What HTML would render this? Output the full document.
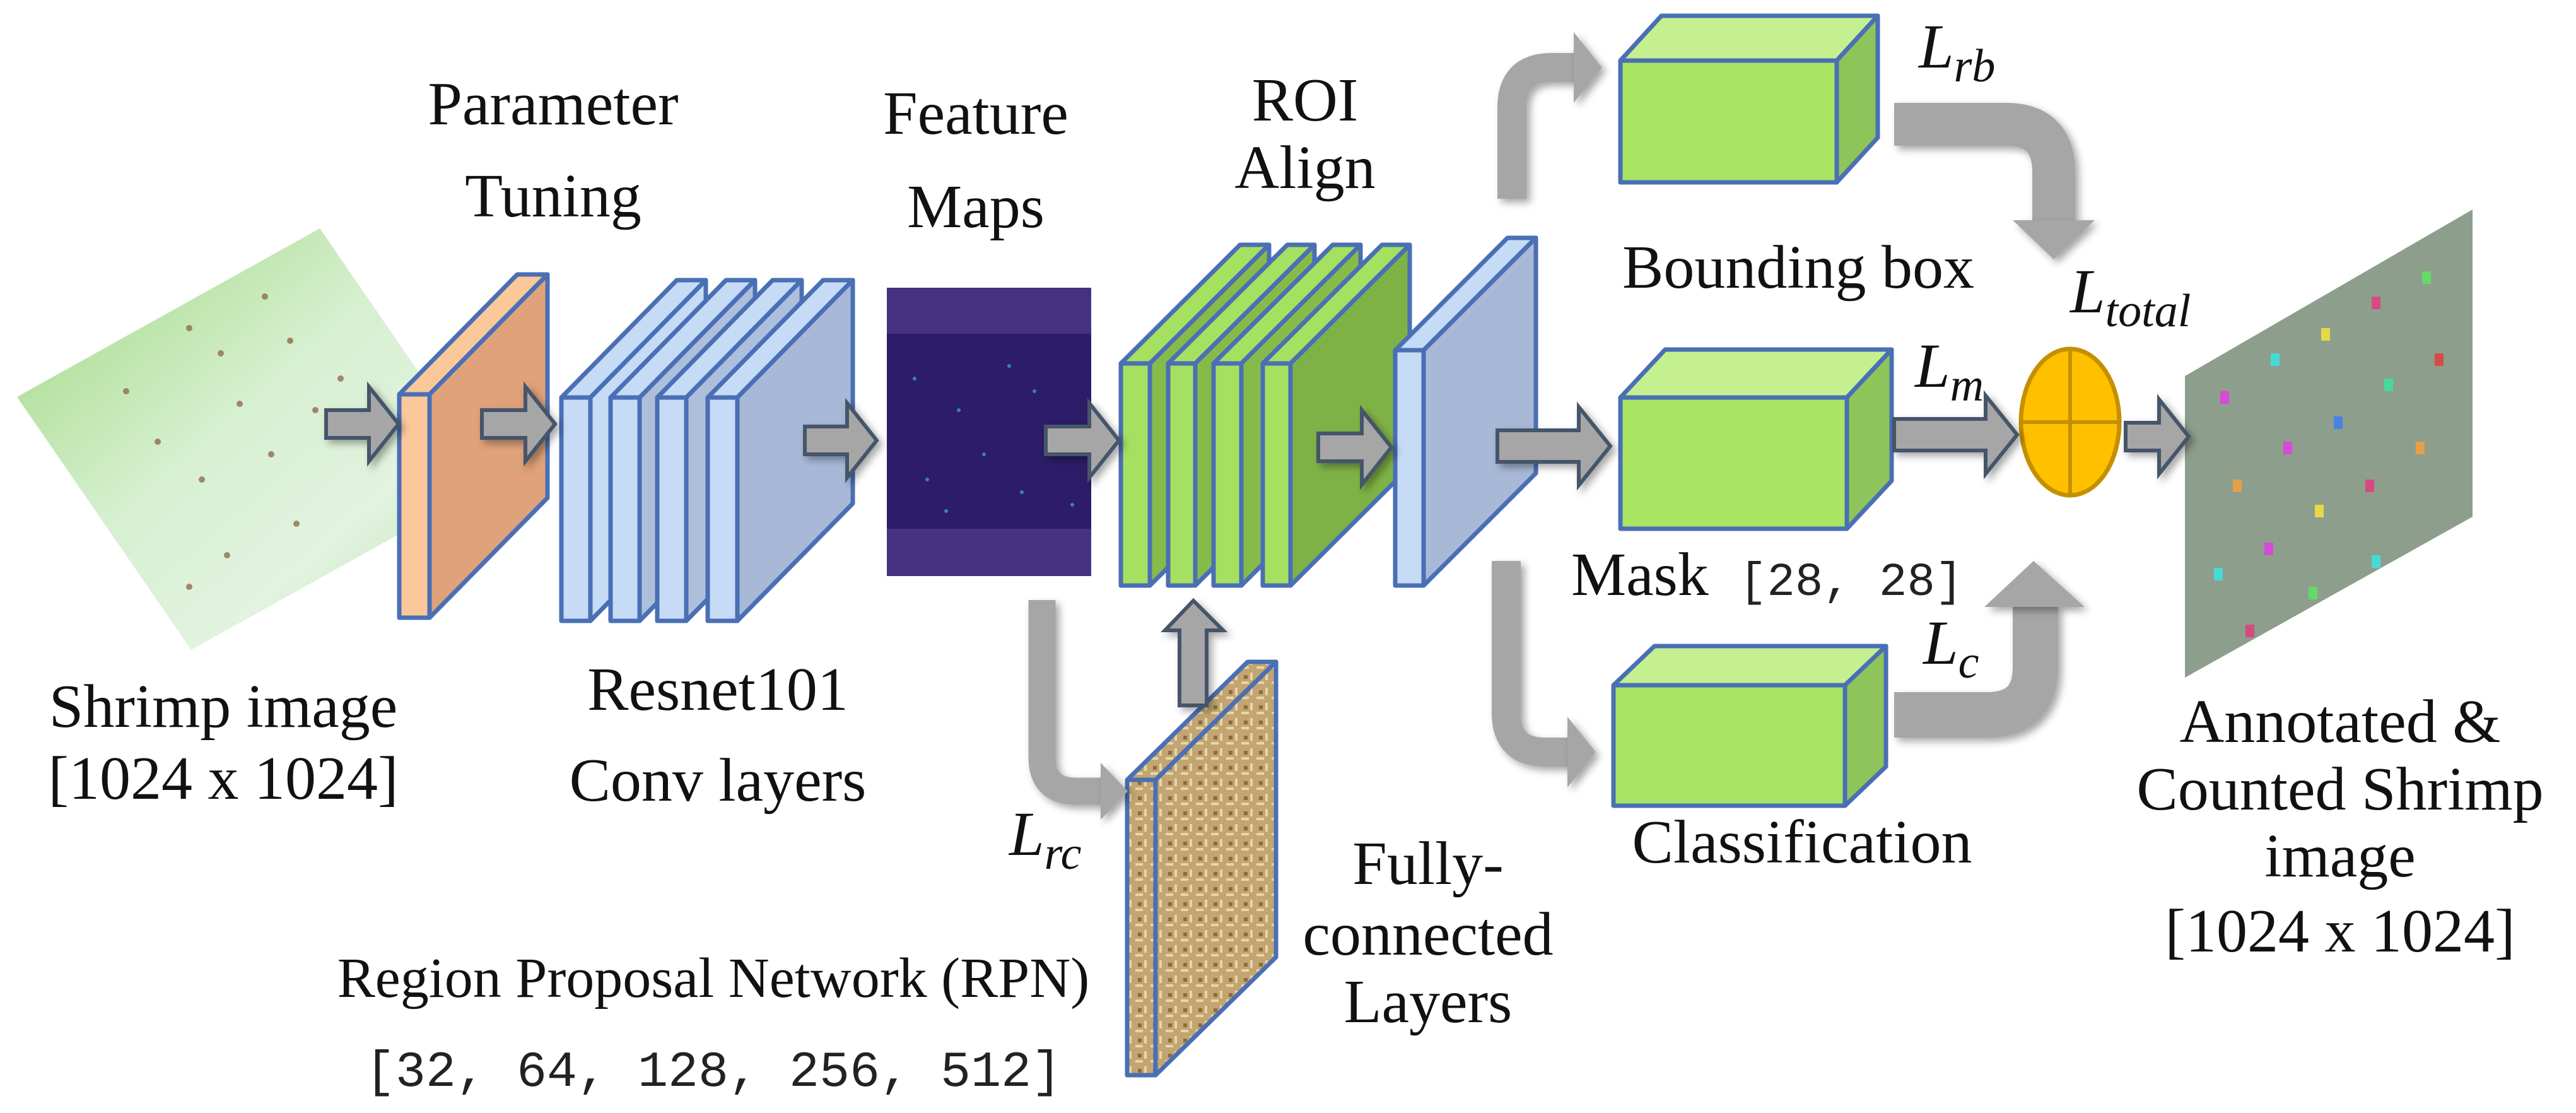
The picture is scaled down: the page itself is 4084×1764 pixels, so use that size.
<!DOCTYPE html>
<html><head><meta charset="utf-8"><style>
html,body{margin:0;padding:0;background:#fff;}
svg{display:block;}
.t{font-family:"Liberation Serif",serif;font-size:98px;fill:#111;}
.m{font-family:"Liberation Mono",monospace;fill:#222;}
.L{font-family:"Liberation Serif",serif;font-style:italic;fill:#111;}
</style></head><body>
<svg width="4084" height="1764" viewBox="0 0 4084 1764" xmlns="http://www.w3.org/2000/svg">
<defs>
<linearGradient id="shr" x1="0" y1="0" x2="1" y2="1">
<stop offset="0" stop-color="#9fd67e"/><stop offset="0.45" stop-color="#d6f0d0"/><stop offset="0.7" stop-color="#e2f3e0"/><stop offset="1" stop-color="#b9dfa8"/></linearGradient>
<pattern id="tex" width="24" height="24" patternUnits="userSpaceOnUse">
<rect width="24" height="24" fill="#c2a572"/><rect x="0" y="0" width="12" height="4" fill="#e8d6a4"/><rect x="14" y="10" width="4" height="12" fill="#e8d6a4"/><rect x="4" y="14" width="6" height="6" fill="#8a6c3e"/></pattern>
<filter id="sh" x="-20%" y="-20%" width="150%" height="150%"><feDropShadow dx="6" dy="6" stdDeviation="6" flood-color="#000" flood-opacity="0.35"/></filter>
</defs>

<polygon points="27,629 507,362 783,763 303,1030" fill="url(#shr)"/>
<g fill="#8a5a3a" opacity="0.7">
<circle cx="300" cy="520" r="5"/><circle cx="350" cy="560" r="5"/><circle cx="420" cy="470" r="5"/><circle cx="460" cy="540" r="5"/><circle cx="380" cy="640" r="5"/><circle cx="250" cy="700" r="5"/><circle cx="320" cy="760" r="5"/><circle cx="430" cy="720" r="5"/><circle cx="500" cy="650" r="5"/><circle cx="360" cy="880" r="5"/><circle cx="200" cy="620" r="5"/><circle cx="540" cy="600" r="5"/><circle cx="300" cy="930" r="5"/><circle cx="470" cy="830" r="5"/>
</g>

<text class="t" x="877" y="197" text-anchor="middle">Parameter</text>
<text class="t" x="877" y="343" text-anchor="middle">Tuning</text>
<text class="t" x="1547" y="212" text-anchor="middle">Feature</text>
<text class="t" x="1547" y="360" text-anchor="middle">Maps</text>
<text class="t" x="2069" y="191" text-anchor="middle">ROI</text>
<text class="t" x="2069" y="298" text-anchor="middle">Align</text>
<text class="t" x="354" y="1152" text-anchor="middle">Shrimp image</text>
<text class="t" x="354" y="1266" text-anchor="middle">[1024 x 1024]</text>
<text class="t" x="1138" y="1125" text-anchor="middle">Resnet101</text>
<text class="t" x="1138" y="1269" text-anchor="middle">Conv layers</text>
<text class="t" x="1131" y="1580" text-anchor="middle" style="font-size:90px">Region Proposal Network (RPN)</text>
<text class="m" x="1131" y="1721" text-anchor="middle" style="font-size:80px">[32, 64, 128, 256, 512]</text>
<text class="t" x="2851" y="456" text-anchor="middle">Bounding box</text>
<text class="t" x="2491" y="943">Mask</text>
<text class="m" x="2757" y="943" style="font-size:74px">[28, 28]</text>
<text class="t" x="2857" y="1367" text-anchor="middle">Classification</text>
<text class="t" x="2264" y="1401" text-anchor="middle">Fully-</text>
<text class="t" x="2264" y="1513" text-anchor="middle">connected</text>
<text class="t" x="2264" y="1620" text-anchor="middle">Layers</text>
<text class="t" x="3710" y="1176" text-anchor="middle">Annotated &amp;</text>
<text class="t" x="3710" y="1283" text-anchor="middle">Counted Shrimp</text>
<text class="t" x="3710" y="1389" text-anchor="middle">image</text>
<text class="t" x="3710" y="1508" text-anchor="middle">[1024 x 1024]</text>

<text class="L" x="1600" y="1355" font-size="100">L<tspan font-size="74" dy="22">rc</tspan></text>
<text class="L" x="3042" y="107" font-size="100">L<tspan font-size="74" dy="22">rb</tspan></text>
<text class="L" x="3282" y="495" font-size="100">L<tspan font-size="74" dy="22">total</tspan></text>
<text class="L" x="3036" y="613" font-size="100">L<tspan font-size="74" dy="22">m</tspan></text>
<text class="L" x="3049" y="1052" font-size="100">L<tspan font-size="74" dy="22">c</tspan></text>

<g stroke="#4a6fb5" stroke-width="7" stroke-linejoin="round">
<polygon points="633,625 681,625 868,435 820,435" fill="#fbc89a"/>
<polygon points="681,625 868,435 868,789 681,979" fill="#dfa27a"/>
<rect x="633" y="625" width="48" height="354" fill="#fbc89a"/>
<polygon points="890,630 936,630 1119,444 1073,444" fill="#c6dbf5"/>
<polygon points="936,630 1119,444 1119,798 936,984" fill="#c6dbf5"/>
<rect x="890" y="630" width="46" height="354" fill="#c6dbf5"/>
<polygon points="968,630 1014,630 1197,444 1151,444" fill="#c6dbf5"/>
<polygon points="1014,630 1197,444 1197,798 1014,984" fill="#aebfdc"/>
<rect x="968" y="630" width="46" height="354" fill="#c6dbf5"/>
<polygon points="1042,630 1088,630 1271,444 1225,444" fill="#c6dbf5"/>
<polygon points="1088,630 1271,444 1271,798 1088,984" fill="#aebfdc"/>
<rect x="1042" y="630" width="46" height="354" fill="#c6dbf5"/>
<polygon points="1122,630 1169,630 1352,444 1305,444" fill="#c6dbf5"/>
<polygon points="1169,630 1352,444 1352,798 1169,984" fill="#a8b9d8"/>
<rect x="1122" y="630" width="47" height="354" fill="#c6dbf5"/>
</g>

<rect x="1406" y="456" width="324" height="457" fill="#45337f"/>
<rect x="1406" y="529" width="324" height="309" fill="#2d1c68"/>
<g fill="#3fa0b8" opacity="0.8">
<circle cx="1450" cy="600" r="3"/><circle cx="1520" cy="650" r="3"/><circle cx="1600" cy="580" r="3"/><circle cx="1680" cy="700" r="3"/><circle cx="1470" cy="760" r="3"/><circle cx="1560" cy="720" r="3"/><circle cx="1640" cy="620" r="3"/><circle cx="1700" cy="800" r="3"/><circle cx="1500" cy="810" r="3"/><circle cx="1620" cy="780" r="3"/>
</g>

<g stroke="#4a6fb5" stroke-width="7" stroke-linejoin="round">
<polygon points="1777,576 1823,576 2012,388 1966,388" fill="#a6e060"/>
<polygon points="1823,576 2012,388 2012,740 1823,928" fill="#86bb4a"/>
<rect x="1777" y="576" width="46" height="352" fill="#a6e060"/>
<polygon points="1852,576 1895,576 2084,388 2041,388" fill="#a6e060"/>
<polygon points="1895,576 2084,388 2084,740 1895,928" fill="#86bb4a"/>
<rect x="1852" y="576" width="43" height="352" fill="#a6e060"/>
<polygon points="1924,576 1968,576 2157,388 2113,388" fill="#a6e060"/>
<polygon points="1968,576 2157,388 2157,740 1968,928" fill="#86bb4a"/>
<rect x="1924" y="576" width="44" height="352" fill="#a6e060"/>
<polygon points="2002,576 2046,576 2235,388 2191,388" fill="#a6e060"/>
<polygon points="2046,576 2235,388 2235,740 2046,928" fill="#7fb246"/>
<rect x="2002" y="576" width="44" height="352" fill="#a6e060"/>
<polygon points="2212,555 2257,555 2435,377 2390,377" fill="#c6dbf5"/>
<polygon points="2257,555 2435,377 2435,750 2257,928" fill="#a8b9d8"/>
<rect x="2212" y="555" width="45" height="373" fill="#c6dbf5"/>
<polygon points="1787,1236 1832,1236 2023,1049 1978,1049" fill="url(#tex)"/>
<polygon points="1832,1236 2023,1049 2023,1517 1832,1704" fill="url(#tex)"/>
<rect x="1787" y="1236" width="45" height="468" fill="url(#tex)"/>
<polygon points="2569,96 2912,96 2977,25 2634,25" fill="#c5f08f"/>
<polygon points="2912,96 2977,25 2977,218 2912,289" fill="#8fc45a"/>
<rect x="2569" y="96" width="343" height="193" fill="#a9e463"/>
<polygon points="2569,630 2928,630 2999,554 2640,554" fill="#c5f08f"/>
<polygon points="2928,630 2999,554 2999,762 2928,838" fill="#8fc45a"/>
<rect x="2569" y="630" width="359" height="208" fill="#a9e463"/>
<polygon points="2558,1086 2925,1086 2990,1024 2623,1024" fill="#c5f08f"/>
<polygon points="2925,1086 2990,1024 2990,1215 2925,1277" fill="#8fc45a"/>
<rect x="2558" y="1086" width="367" height="191" fill="#a9e463"/>
</g>

<polygon points="3464,596 3920,332 3920,819 3464,1074" fill="#8d9f8c"/>
<g opacity="0.9">
<rect x="3520" y="620" width="14" height="20" fill="#e040e0"/><rect x="3600" y="560" width="14" height="20" fill="#40e0e0"/><rect x="3680" y="520" width="14" height="20" fill="#f0e040"/><rect x="3760" y="470" width="14" height="20" fill="#e04080"/><rect x="3840" y="430" width="14" height="20" fill="#60e060"/>
<rect x="3540" y="760" width="14" height="20" fill="#f0a040"/><rect x="3620" y="700" width="14" height="20" fill="#e040e0"/><rect x="3700" y="660" width="14" height="20" fill="#4080f0"/><rect x="3780" y="600" width="14" height="20" fill="#40e0a0"/><rect x="3860" y="560" width="14" height="20" fill="#e04040"/>
<rect x="3510" y="900" width="14" height="20" fill="#40e0e0"/><rect x="3590" y="860" width="14" height="20" fill="#e040e0"/><rect x="3670" y="800" width="14" height="20" fill="#f0e040"/><rect x="3750" y="760" width="14" height="20" fill="#e04080"/><rect x="3830" y="700" width="14" height="20" fill="#f0a040"/>
<rect x="3560" y="990" width="14" height="20" fill="#e04080"/><rect x="3660" y="930" width="14" height="20" fill="#60e060"/><rect x="3760" y="880" width="14" height="20" fill="#40e0e0"/>
</g>

<ellipse cx="3282" cy="669" rx="78" ry="116" fill="#ffc000" stroke="#c49000" stroke-width="7"/>
<line x1="3282" y1="553" x2="3282" y2="785" stroke="#c49000" stroke-width="6"/>
<line x1="3204" y1="669" x2="3360" y2="669" stroke="#c49000" stroke-width="6"/>

<g fill="#a6a6a6" stroke="#44546a" stroke-width="6" stroke-linejoin="miter" filter="url(#sh)">
<polygon points="517,650 585,650 585,613 632,672 585,731 585,694 517,694"/>
<polygon points="764,650 833,650 833,613 880,672 833,731 833,694 764,694"/>
<polygon points="1276,676 1343,676 1343,639 1390,698 1343,757 1343,720 1276,720"/>
<polygon points="1658,676 1727,676 1727,639 1774,698 1727,757 1727,720 1658,720"/>
<polygon points="2090,687 2159,687 2159,650 2206,709 2159,768 2159,731 2090,731"/>
<polygon points="2374,682 2503,682 2503,645 2553,707 2503,769 2503,732 2374,732"/>
<polygon points="3003,664 3148,664 3148,627 3198,689 3148,751 3148,714 3003,714"/>
<polygon points="3370,670 3423,670 3423,633 3470,692 3423,751 3423,714 3370,714"/>
<polygon points="1870,1118 1870,999 1847,999 1892,952 1939,999 1913,999 1913,1118"/>
</g>

<g fill="none" stroke="#a6a6a6" filter="url(#sh)">
<path d="M2397 315 V170 Q2397 107 2460 107 H2500" stroke-width="46"/>
<path d="M2388 889 V1130 Q2388 1192 2450 1192 H2490" stroke-width="46"/>
<path d="M3003 197 H3180 Q3256 197 3256 273 V352" stroke-width="68"/>
<path d="M3003 1133 H3150 Q3227 1133 3227 1056 V958" stroke-width="72"/>
<path d="M1652 951 V1200 Q1652 1254 1706 1254 H1748" stroke-width="43"/>
</g>
<g fill="#a6a6a6" filter="url(#sh)">
<polygon points="2495,51 2540,107 2495,163"/>
<polygon points="2485,1136 2530,1192 2485,1248"/>
<polygon points="3191,349 3321,349 3256,411"/>
<polygon points="3146,962 3305,962 3224,889"/>
<polygon points="1745,1209 1788,1254 1745,1299"/>
</g>
</svg>
</body></html>
